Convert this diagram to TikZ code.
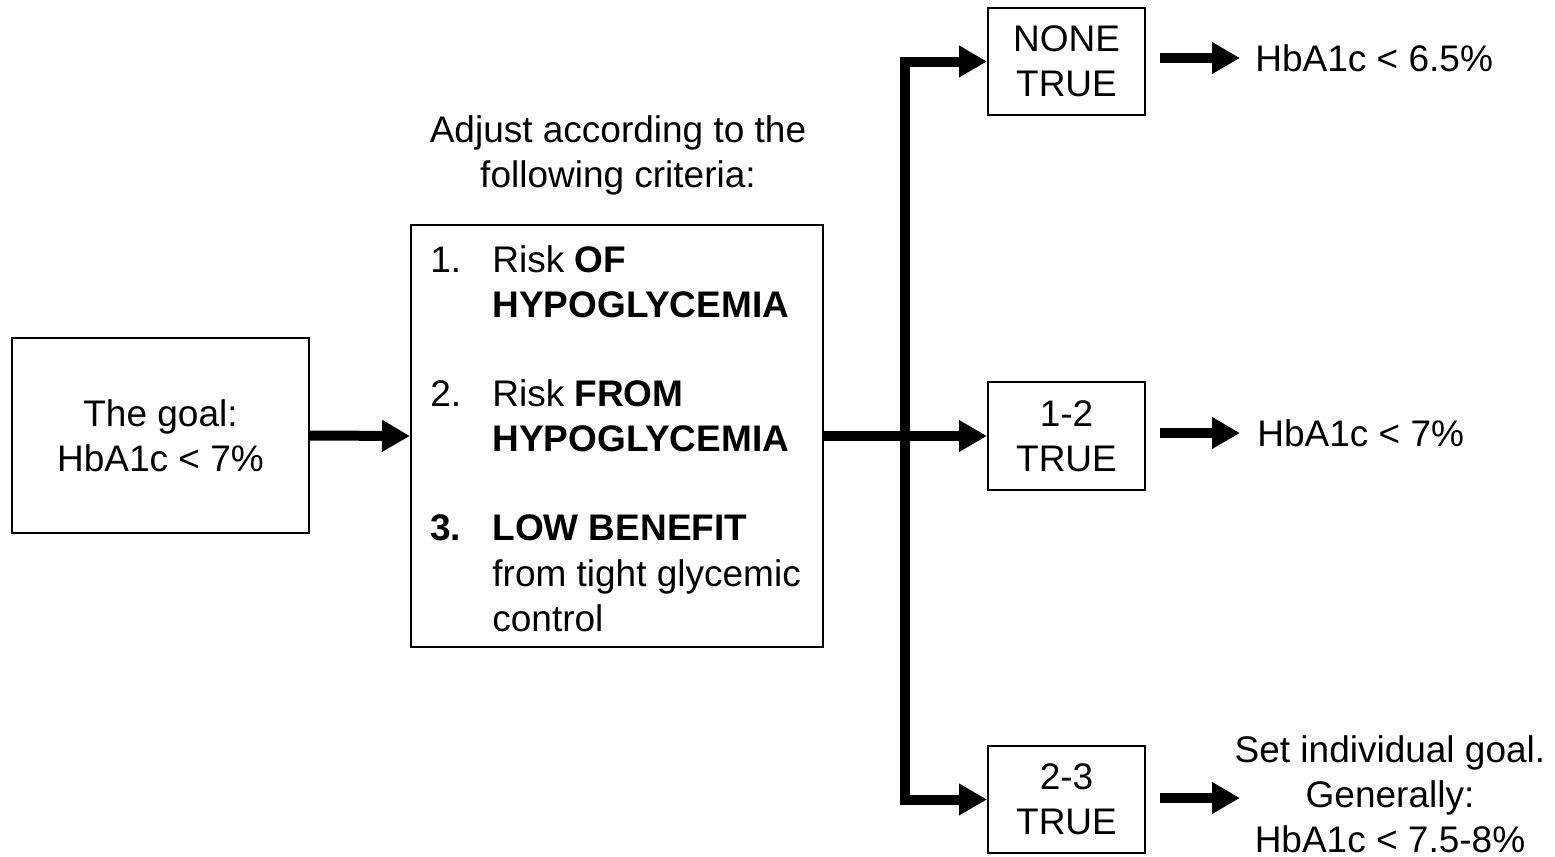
\documentclass[tikz,border=0pt]{standalone}
\usepackage{fontspec}
\setmainfont{Liberation Sans}
\usetikzlibrary{arrows.meta}
\begin{document}
\begin{tikzpicture}[x=0.5pt,y=-0.5pt,
  every node/.style={font=\fontsize{18.5}{22.5}\selectfont},
  box/.style={draw,line width=1pt,inner sep=0pt,align=center},
  txt/.style={inner sep=0pt,anchor=base west},
  arr/.style={line width=5pt,line join=miter,-{Triangle[length=14pt,width=15pt]}}]
\useasboundingbox (0,0) rectangle (1555,857);
% boxes
\node[box,minimum width=148.5pt,minimum height=97.5pt] (goal) at (160.5,435.5) {The goal:\\HbA1c < 7\%};
\node[box,minimum width=206pt,minimum height=211pt] (crit) at (617,436) {};
\node[box,minimum width=78.5pt,minimum height=53.5pt] (none) at (1066.5,61.5) {NONE\\TRUE};
\node[box,minimum width=78.5pt,minimum height=54pt] (t12) at (1066.5,436) {1-2\\TRUE};
\node[box,minimum width=78.5pt,minimum height=53.5pt] (t23) at (1066.5,799.5) {2-3\\TRUE};
% title
\node[align=center,inner sep=0pt] (title) at (618,155) {Adjust according to the\\following criteria:};
% criteria text
\node[txt] (n1) at (430,272) {1.};
\node[txt] (c1a) at (492,272) {Risk \textbf{OF}};
\node[txt] (c1b) at (492,317) {\textbf{HYPOGLYCEMIA}};
\node[txt] (n2) at (430,406) {2.};
\node[txt] (c2a) at (492,406) {Risk \textbf{FROM}};
\node[txt] (c2b) at (492,451) {\textbf{HYPOGLYCEMIA}};
\node[txt] (n3) at (430,540) {\textbf{3.}};
\node[txt] (c3a) at (492,540) {\textbf{LOW BENEFIT}};
\node[txt] (c3b) at (492,586) {from tight glycemic};
\node[txt] (c3c) at (492,631) {control};
% results
\node[inner sep=0pt,anchor=west] (r1) at (1255,58) {HbA1c < 6.5\%};
\node[inner sep=0pt,anchor=west] (r2) at (1257,433) {HbA1c < 7\%};
\node[inner sep=0pt,align=center] (r3) at (1390,794) {Set individual goal.\\Generally:\\HbA1c < 7.5-8\%};
% connectors
\coordinate (j) at (905,436);
\coordinate (s1) at (1160,58);
\coordinate (e1) at (1240,58);
\coordinate (s2) at (1160,433);
\coordinate (e2) at (1240,433);
\coordinate (s3) at (1160,798);
\coordinate (e3) at (1240,798);
\draw[arr] (goal.east) -- (crit.west);
\draw[arr] (crit.east) -- (t12.west);
\draw[arr] (j) |- (none.west);
\draw[arr] (j) |- (t23.west);
\draw[arr] (s1) -- (e1);
\draw[arr] (s2) -- (e2);
\draw[arr] (s3) -- (e3);
\end{tikzpicture}
\end{document}
